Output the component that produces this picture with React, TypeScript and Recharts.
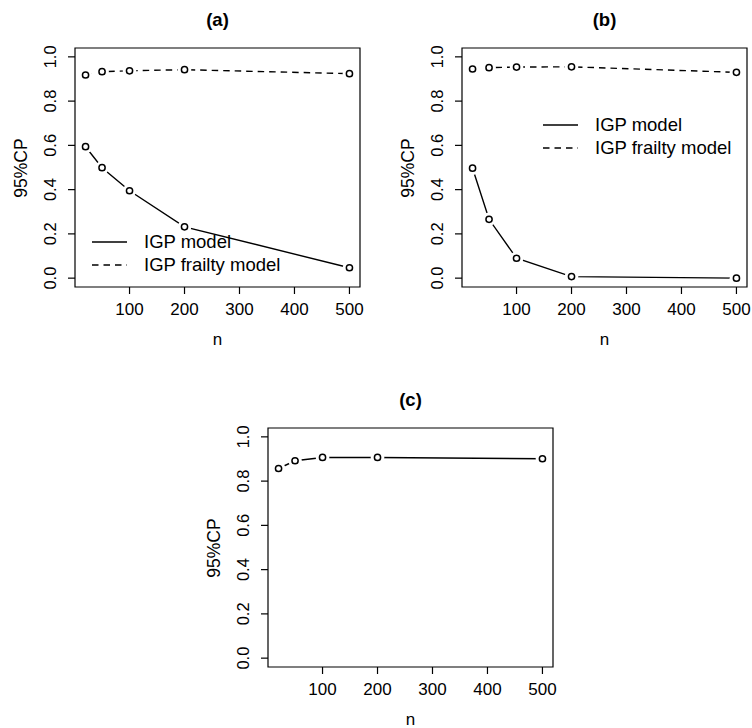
import { LineChart, Line, XAxis, YAxis, ReferenceArea } from 'recharts'

const nValues = [20, 50, 100, 200, 500]
const igpA = [0.594, 0.499, 0.395, 0.232, 0.047]
const frailtyA = [0.918, 0.933, 0.937, 0.942, 0.924]
const igpB = [0.497, 0.266, 0.09, 0.007, 0.0]
const frailtyB = [0.945, 0.951, 0.954, 0.955, 0.93]
const seriesC = [0.857, 0.892, 0.907, 0.907, 0.901]
const xTicks = [100, 200, 300, 400, 500]
const yTicks = [0, 0.2, 0.4, 0.6, 0.8, 1.0]

const FONT = '"Liberation Sans", Arial, Helvetica, sans-serif'
const DASH = '6.5 5'
const X_DOMAIN = [0.8, 519.2]
const Y_DOMAIN = [-0.04, 1.04]
const Y_AXIS_W = 75
const X_AXIS_H = 60
const BOX_W = 285
const BOX_H = 239
const PAD = 24

const XTick = (props: any) => {
  const { x, y, payload } = props
  return (
    <text x={x} y={y + 21} textAnchor="middle" fontSize={17} fontFamily={FONT} fill="#000">
      {payload.value}
    </text>
  )
}

const YTick = (props: any) => {
  const { x, y, payload } = props
  return (
    <text
      transform={`translate(${x - 12}, ${y}) rotate(-90)`}
      textAnchor="middle"
      fontSize={16.5}
      fontFamily={FONT}
      fill="#000"
    >
      {Number(payload.value).toFixed(1)}
    </text>
  )
}

// R type="b": open circle with a small gap in the line around it
const OpenDot = (props: any) => {
  const { cx, cy, index } = props
  if (cx == null || cy == null) return null
  return (
    <g key={`dot-${index}`}>
      <circle cx={cx} cy={cy} r={6.8} fill="#fff" stroke="none" />
      <circle cx={cx} cy={cy} r={3.1} fill="#fff" stroke="#000" strokeWidth={1.5} />
    </g>
  )
}

interface SeriesDef {
  key: string
  values: number[]
  dashed?: boolean
}

interface PanelProps {
  left: number
  top: number
  title: string
  series: SeriesDef[]
  legend?: { x: number; y: number }
}

const Panel = ({ left, top, title, series, legend }: PanelProps) => {
  const data = nValues.map((n, i) => {
    const row: Record<string, number> = { n }
    series.forEach((s) => {
      row[s.key] = s.values[i]
    })
    return row
  })
  const boxLeft = left + Y_AXIS_W
  const cx = boxLeft + BOX_W / 2
  const cy = top + BOX_H / 2
  return (
    <>
      <div
        style={{
          position: 'absolute',
          left: cx - 40,
          width: 80,
          top: top - 38,
          lineHeight: '20px',
          textAlign: 'center',
          fontWeight: 'bold',
          fontSize: 18.5,
          fontFamily: FONT,
        }}
      >
        {title}
      </div>
      <div style={{ position: 'absolute', left, top: top - PAD }}>
        <LineChart
          width={Y_AXIS_W + BOX_W + PAD}
          height={BOX_H + X_AXIS_H + PAD}
          data={data}
          margin={{ top: PAD, right: PAD, bottom: 0, left: 0 }}
        >
          <XAxis
            dataKey="n"
            type="number"
            domain={X_DOMAIN}
            ticks={xTicks}
            allowDataOverflow
            axisLine={false}
            tickLine={{ stroke: '#000', strokeWidth: 1.2 }}
            tickSize={7}
            tickMargin={0}
            height={X_AXIS_H}
            tick={XTick}
          />
          <YAxis
            type="number"
            domain={Y_DOMAIN}
            ticks={yTicks}
            allowDataOverflow
            axisLine={false}
            tickLine={{ stroke: '#000', strokeWidth: 1.2 }}
            tickSize={7}
            tickMargin={0}
            width={Y_AXIS_W}
            tick={YTick}
          />
          <ReferenceArea
            x1={X_DOMAIN[0]}
            x2={X_DOMAIN[1]}
            y1={Y_DOMAIN[0]}
            y2={Y_DOMAIN[1]}
            fill="none"
            stroke="#000"
            strokeWidth={1.2}
            ifOverflow="visible"
          />
          {series.map((s) => (
            <Line
              key={s.key}
              dataKey={s.key}
              type="linear"
              stroke="#000"
              strokeWidth={1.4}
              strokeDasharray={s.dashed ? DASH : undefined}
              dot={OpenDot}
              activeDot={false}
              isAnimationActive={false}
            />
          ))}
        </LineChart>
      </div>
      <div
        style={{
          position: 'absolute',
          left: cx - 20,
          width: 40,
          top: top + BOX_H + 46,
          height: 14,
          lineHeight: '14px',
          textAlign: 'center',
          fontSize: 17,
          fontFamily: FONT,
        }}
      >
        n
      </div>
      <div
        style={{
          position: 'absolute',
          left: boxLeft - 53.6 - 50,
          width: 100,
          top: cy - 10,
          lineHeight: '20px',
          textAlign: 'center',
          fontSize: 17.5,
          fontFamily: FONT,
          transform: 'rotate(-90deg)',
        }}
      >
        95%CP
      </div>
      {legend && (
        <div style={{ position: 'absolute', left: legend.x, top: legend.y, fontFamily: FONT, fontSize: 18.5 }}>
          {[
            { label: 'IGP model', dashed: false },
            { label: 'IGP frailty model', dashed: true },
          ].map((item) => (
            <div key={item.label} style={{ display: 'flex', alignItems: 'center', height: 22.5 }}>
              <svg width={52} height={22} style={{ flexShrink: 0 }}>
                <line
                  x1={0}
                  x2={35}
                  y1={11}
                  y2={11}
                  stroke="#000"
                  strokeWidth={1.4}
                  strokeDasharray={item.dashed ? DASH : undefined}
                />
              </svg>
              <span style={{ whiteSpace: 'nowrap', lineHeight: '22px' }}>{item.label}</span>
            </div>
          ))}
        </div>
      )}
    </>
  )
}

export default function App() {
  return (
    <div style={{ position: 'absolute', left: 0, top: 0, width: 752, height: 728, background: '#fff', overflow: 'hidden' }}>
      <Panel
        left={0}
        top={48}
        title="(a)"
        series={[
          { key: 'igp', values: igpA },
          { key: 'frailty', values: frailtyA, dashed: true },
        ]}
        legend={{ x: 92, y: 231 }}
      />
      <Panel
        left={387}
        top={48}
        title="(b)"
        series={[
          { key: 'igp', values: igpB },
          { key: 'frailty', values: frailtyB, dashed: true },
        ]}
        legend={{ x: 543, y: 114 }}
      />
      <Panel left={193} top={428} title="(c)" series={[{ key: 'c', values: seriesC }]} />
    </div>
  )
}
